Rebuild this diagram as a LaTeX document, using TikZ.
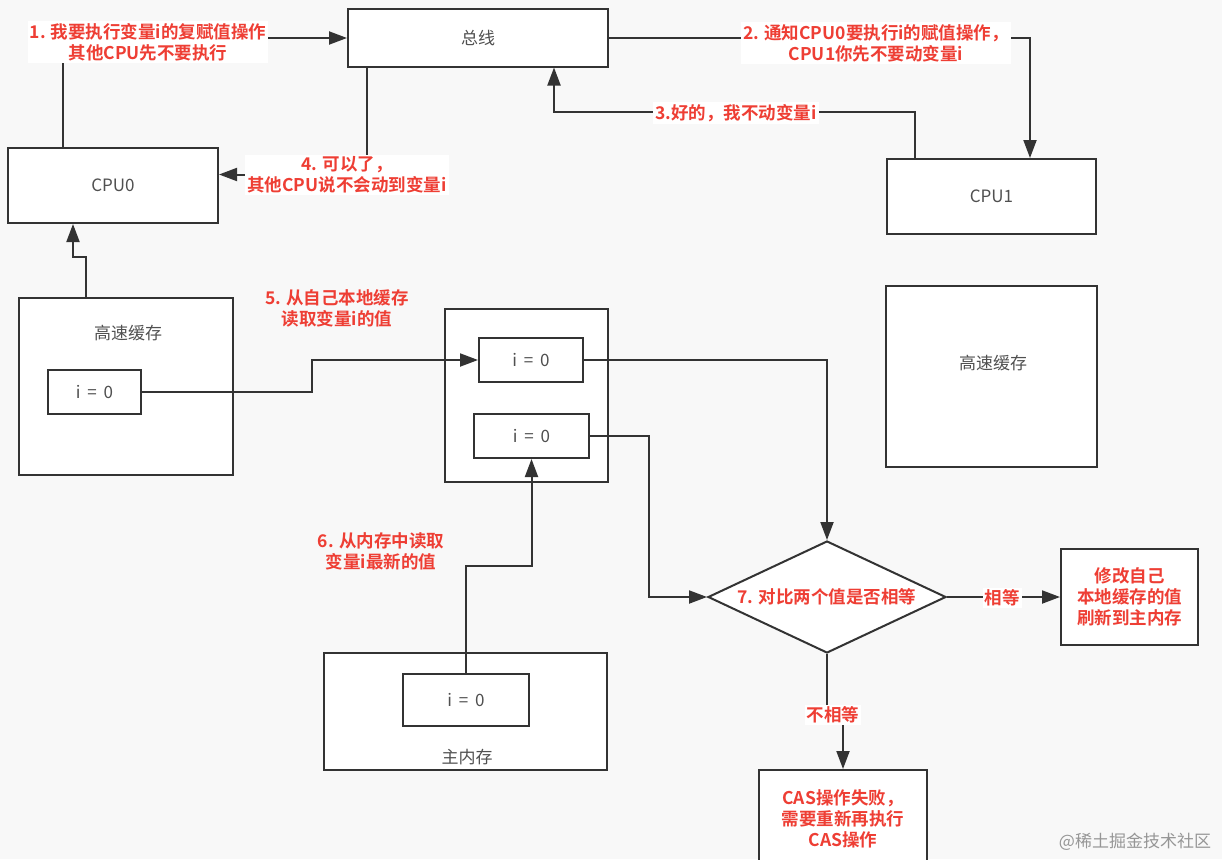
\documentclass[tikz,border=0pt]{standalone}
\usepackage{fontspec}
\setmainfont{Noto Sans CJK SC}[BoldFont={Noto Sans CJK SC Bold}]
\usetikzlibrary{arrows.meta,shapes.geometric,calc}
\definecolor{NoteRed}{RGB}{238,62,52}
\definecolor{LineGray}{RGB}{51,51,51}
\definecolor{TextGray}{RGB}{80,80,80}
\definecolor{PaperGray}{RGB}{248,248,248}
\definecolor{MarkGray}{RGB}{150,150,150}
\newcommand{\ival}{i\hspace{0.4em}=\hspace{0.4em}0}

\begin{document}
\begin{tikzpicture}[x=1pt,y=1pt,yscale=-1,xscale=1,
		cellbox/.style={draw=LineGray, line width=2pt, fill=white, inner sep=0pt, text=TextGray, font=\fontsize{17}{20}\selectfont},
		graytext/.style={text=TextGray, font=\fontsize{17}{20}\selectfont},
		redtext/.style={text=NoteRed, align=center, inner sep=1pt, font=\bfseries\fontsize{17.5}{21}\selectfont},
		redlabel/.style={redtext, fill=white, inner sep=2pt},
		plainline/.style={draw=LineGray, line width=2pt},
		arrowline/.style={plainline, -{Triangle[length=18pt,width=13pt]}}]

		% Set diagram size to 1222 x 859 with the light grey paper
		\useasboundingbox (0,0) rectangle (1222,859);
		\clip (0,0) rectangle (1222,859);
		\fill[PaperGray] (0,0) rectangle (1222,859);

		% Draw the bus and the two CPUs
		\node (bus) [cellbox, minimum width=260pt, minimum height=57pt] at (478,38) {总线};
		\node (cpu0) [cellbox, minimum width=210pt, minimum height=75pt] at (113,185.5) {CPU0};
		\node (cpu1) [cellbox, minimum width=209pt, minimum height=75pt] at (991.5,196.5) {CPU1};

		% Draw the two caches, the working box and the main memory
		\node (cacheL) [cellbox, minimum width=214pt, minimum height=177pt] at (126,386.5) {};
		\node (cacheLtxt) [graytext] at (128,333) {高速缓存};
		\node (cacheR) [cellbox, minimum width=211pt, minimum height=181pt] at (991.5,376.5) {};
		\node (cacheRtxt) [graytext] at (993,363) {高速缓存};
		\node (work) [cellbox, minimum width=163pt, minimum height=173pt] at (526.5,395.5) {};
		\node (mem) [cellbox, minimum width=283pt, minimum height=117pt] at (465.5,711.5) {};
		\node (memtxt) [graytext] at (467,757) {主内存};

		% The values of i inside the boxes
		\node (valL) [cellbox, minimum width=93pt, minimum height=44pt] at (94.5,392) {\ival};
		\node (valA) [cellbox, minimum width=104pt, minimum height=44pt] at (531,360) {\ival};
		\node (valB) [cellbox, minimum width=115pt, minimum height=44pt] at (531.5,436) {\ival};
		\node (valM) [cellbox, minimum width=126pt, minimum height=52pt] at (466,700) {\ival};

		% The compare step and its two outcomes
		\node (cmp) [cellbox, redtext, diamond, draw=LineGray, fill=white, inner sep=0pt, shape aspect=2.125, minimum width=238pt, minimum height=112pt] at (827,597) {7. 对比两个值是否相等};
		\node (okbox) [cellbox, redtext, inner sep=0pt, minimum width=137pt, minimum height=96pt] at (1129.5,597) {修改自己\\本地缓存的值\\刷新到主内存};
		\node (failbox) [cellbox, redtext, inner sep=0pt, minimum width=168pt, minimum height=98pt] at (843,819) {CAS操作失败，\\需要重新再执行\\CAS操作};

		% Draw the connectors
		\draw[arrowline] ($(cpu0.north)+(-50,0)$) |- (bus.west);
		\draw[arrowline] (bus.east) -| ($(cpu1.north)+(38.5,0)$);
		\draw[arrowline] ($(cpu1.north)+(-76.5,0)$) -- ++(0,-46) -| ($(bus.south)+(76,0)$);
		\draw[arrowline] ($(bus.south)+(-111,0)$) |- ($(cpu0.east)+(0,-11)$);
		\draw[arrowline] ($(cacheL.north)+(-40,0)$) -- ++(0,-40) -| ($(cpu0.south)+(-40,0)$);
		\draw[arrowline] (valL.east) -- ++(170,0) |- (valA.west);
		\draw[arrowline] (valM.north) -- ++(0,-107) -| (valB.south);
		\draw[arrowline] (valA.east) -| (cmp.north);
		\draw[arrowline] (valB.east) -- ++(59,0) |- (cmp.west);
		\draw[arrowline] (cmp.east) -- (okbox.west);
		\draw[arrowline] (cmp.south) -- ++(0,62) -| (failbox.north);

		% The red step labels on the connectors
		\node (lab1) [redlabel] at (148,42) {1. 我要执行变量i的复赋值操作\\其他CPU先不要执行};
		\node (lab2) [redlabel] at (876,43) {2. 通知CPU0要执行i的赋值操作，\\CPU1你先不要动变量i};
		\node (lab3) [redlabel] at (736,113) {3.好的，我不动变量i};
		\node (lab4) [redlabel] at (347,175) {4. 可以了，\\其他CPU说不会动到变量i};
		\node (lab5) [redtext] at (337,308) {5. 从自己本地缓存\\读取变量i的值};
		\node (lab6) [redtext] at (381,551) {6. 从内存中读取\\变量i最新的值};
		\node (labeq) [redlabel] at (1002,598) {相等};
		\node (labne) [redlabel] at (833,715) {不相等};

		% Watermark in the corner
		\node (mark) [text=MarkGray, font=\fontsize{17}{20}\selectfont] at (1135,842) {@稀土掘金技术社区};
	\end{tikzpicture}
\end{document}
